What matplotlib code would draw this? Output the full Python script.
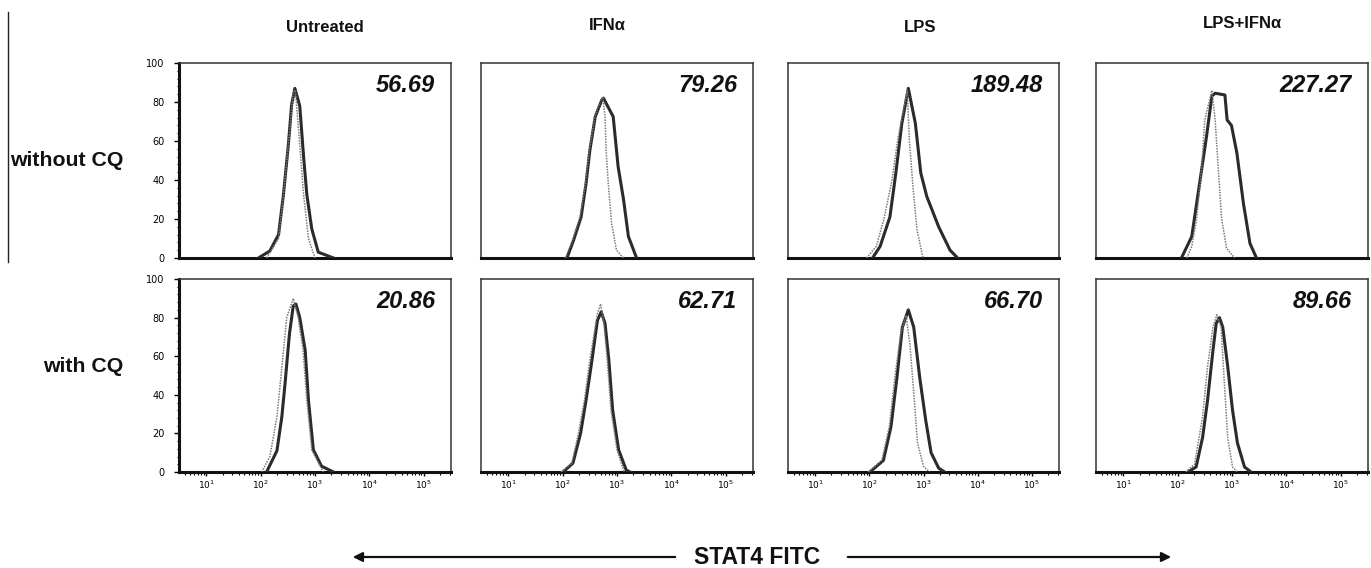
import numpy as np
import matplotlib
matplotlib.use('Agg')
import matplotlib.pyplot as plt
from matplotlib.patches import FancyArrowPatch
from matplotlib.ticker import MultipleLocator, LogLocator, NullFormatter, FixedLocator

plt.rc('font', family=['Liberation Sans', 'DejaVu Sans'])

W, H = 1371, 568

conditions = ['Untreated', 'IFN\u03b1', 'LPS', 'LPS+IFN\u03b1']
row_labels = ['without CQ', 'with CQ']
mfi_without = ['56.69', '79.26', '189.48', '227.27']
mfi_with = ['20.86', '62.71', '66.70', '89.66']
x_ticks = [1, 2, 3, 4, 5]
y_ticks = [0, 20, 40, 60, 80, 100]

# histograms: x in log10(FITC), y in % of max
# without CQ
unt_nocq_x = [1.96, 2.17, 2.33, 2.42, 2.51, 2.57, 2.63, 2.72, 2.79, 2.85, 2.94, 3.06, 3.34]
unt_nocq_y = [0, 3.6, 12, 32.5, 58, 78.6, 87, 78, 52, 32.5, 15, 3, 0]
unt_nocq_ctl_x = [2.11, 2.33, 2.42, 2.51, 2.60, 2.64, 2.72, 2.79, 2.88, 3.00]
unt_nocq_ctl_y = [0, 10, 32, 58, 85, 86, 58, 32.5, 10, 0]

ifn_nocq_x = [2.08, 2.20, 2.34, 2.43, 2.50, 2.60, 2.72, 2.75, 2.93, 3.02, 3.12, 3.21, 3.36]
ifn_nocq_y = [0, 9, 21, 38, 55, 72.5, 81, 82, 72.5, 47, 30, 11, 0]
ifn_nocq_ctl_x = [2.05, 2.18, 2.32, 2.42, 2.49, 2.59, 2.70, 2.74, 2.78, 2.80, 2.84, 2.90, 2.99, 3.12]
ifn_nocq_ctl_y = [0, 9, 21, 38, 55, 72.5, 81, 82, 72.5, 55, 38, 18, 4, 0]

lps_nocq_x = [2.06, 2.20, 2.38, 2.49, 2.60, 2.72, 2.85, 2.95, 3.06, 3.28, 3.49, 3.63]
lps_nocq_y = [0, 6, 21, 43.6, 69, 87, 69, 43.6, 31.6, 16, 4, 0]
lps_nocq_ctl_x = [1.95, 2.13, 2.27, 2.42, 2.52, 2.70, 2.74, 2.81, 2.88, 2.99]
lps_nocq_ctl_y = [0, 6, 20, 40, 60, 86, 60, 35, 14.5, 0]

lpsifn_nocq_x = [2.07, 2.26, 2.35, 2.44, 2.53, 2.63, 2.69, 2.87, 2.91, 2.99, 3.09, 3.21, 3.33, 3.45]
lpsifn_nocq_y = [0, 11, 28, 45, 62, 83, 84.5, 83.6, 70.8, 68, 53.8, 28, 7.5, 0]
lpsifn_nocq_ctl_x = [2.17, 2.26, 2.35, 2.44, 2.50, 2.63, 2.69, 2.75, 2.81, 2.90, 3.05]
lpsifn_nocq_ctl_y = [0, 6, 20, 45, 70.8, 86, 70.8, 45, 20, 5, 0]

# with CQ
unt_cq_x = [2.11, 2.30, 2.39, 2.45, 2.53, 2.60, 2.65, 2.72, 2.82, 2.88, 2.97, 3.12, 3.34]
unt_cq_y = [0, 11, 28.5, 46, 71.5, 86, 87, 80, 63, 37, 11.5, 3, 0]
unt_cq_ctl_x = [2.02, 2.17, 2.30, 2.39, 2.48, 2.60, 2.69, 2.78, 2.85, 2.94, 3.15]
unt_cq_ctl_y = [0, 8, 28.5, 54, 80, 90, 80, 63, 37, 11.5, 0]

ifn_cq_x = [2.01, 2.19, 2.33, 2.43, 2.54, 2.64, 2.71, 2.78, 2.85, 2.92, 3.03, 3.17, 3.24]
ifn_cq_y = [0, 4.6, 20, 37, 58, 78.5, 83, 77, 58, 32, 11.5, 1, 0]
ifn_cq_ctl_x = [1.97, 2.17, 2.29, 2.40, 2.50, 2.64, 2.70, 2.76, 2.82, 2.89, 3.00, 3.13]
ifn_cq_ctl_y = [0, 4.6, 20, 37, 58, 82, 87, 77, 58, 32, 11.5, 0]

lps_cq_x = [2.01, 2.26, 2.40, 2.51, 2.61, 2.72, 2.82, 2.93, 3.04, 3.14, 3.28, 3.39]
lps_cq_y = [0, 6, 23.5, 49, 75, 84, 75, 49, 27, 10, 2, 0]
lps_cq_ctl_x = [1.98, 2.23, 2.37, 2.47, 2.58, 2.68, 2.75, 2.82, 2.89, 3.00, 3.11]
lps_cq_ctl_y = [0, 6, 23.5, 49, 72, 81, 66, 41, 15, 3, 0]

lpsifn_cq_x = [2.19, 2.34, 2.46, 2.55, 2.65, 2.71, 2.77, 2.83, 2.92, 3.01, 3.10, 3.23, 3.35]
lpsifn_cq_y = [0, 2.6, 18, 37, 63, 77, 80, 75, 55, 32, 15, 2.6, 0]
lpsifn_cq_ctl_x = [2.15, 2.31, 2.46, 2.55, 2.65, 2.72, 2.80, 2.86, 2.92, 3.01, 3.10]
lpsifn_cq_ctl_y = [0, 4, 28.6, 54.6, 75, 81.5, 75, 46, 18, 2.6, 0]

curves = [
    [(unt_nocq_x, unt_nocq_y, unt_nocq_ctl_x, unt_nocq_ctl_y),
     (ifn_nocq_x, ifn_nocq_y, ifn_nocq_ctl_x, ifn_nocq_ctl_y),
     (lps_nocq_x, lps_nocq_y, lps_nocq_ctl_x, lps_nocq_ctl_y),
     (lpsifn_nocq_x, lpsifn_nocq_y, lpsifn_nocq_ctl_x, lpsifn_nocq_ctl_y)],
    [(unt_cq_x, unt_cq_y, unt_cq_ctl_x, unt_cq_ctl_y),
     (ifn_cq_x, ifn_cq_y, ifn_cq_ctl_x, ifn_cq_ctl_y),
     (lps_cq_x, lps_cq_y, lps_cq_ctl_x, lps_cq_ctl_y),
     (lpsifn_cq_x, lpsifn_cq_y, lpsifn_cq_ctl_x, lpsifn_cq_ctl_y)],
]
mfi = [mfi_without, mfi_with]

# panel frames in pixels
col_px = [(179, 451), (481, 753), (788, 1059), (1096, 1368)]
row_px = [(63, 258), (279, 472)]
title_px = [(325, 28), (607, 26), (920, 28), (1242, 23)]
rowlab_px = [(123, 161), (123, 367)]

fig = plt.figure(figsize=(W / 100, H / 100), dpi=100)

for r, (top, bot) in enumerate(row_px):
    for c, (left, right) in enumerate(col_px):
        ax = fig.add_axes([left / W, 1 - bot / H, (right - left) / W, (bot - top) / H])
        sx, sy, cx, cy = curves[r][c]
        ax.plot(10 ** np.array(sx), sy, color='#2b2b2b', lw=2.2, zorder=3)
        ax.plot(10 ** np.array(cx), cy, color='#7a7a7a', lw=1.1,
                ls=(0, (1, 0.8)), zorder=4)
        ax.set_xscale('log')
        ax.set_xlim(10 ** 0.5, 10 ** 5.5)
        ax.set_ylim(0, 100)
        for s in ax.spines.values():
            s.set_linewidth(1.1)
            s.set_color('#333333')
        ax.spines['bottom'].set_linewidth(2.2)
        ax.spines['bottom'].set_color('#111111')

        ax.text(1 - 16 / (right - left), 1 - 22 / (bot - top), mfi[r][c],
                transform=ax.transAxes, ha='right', va='center',
                fontsize=17, fontweight='bold', fontstyle='italic', color='#111111')

        if r == 1:
            ax.xaxis.set_major_locator(FixedLocator([10.0 ** k for k in x_ticks]))
            ax.xaxis.set_minor_locator(LogLocator(base=10, subs=np.arange(2, 10)))
            ax.xaxis.set_minor_formatter(NullFormatter())
            ax.set_xticklabels(['$10^{%d}$' % k for k in x_ticks])
            ax.tick_params(axis='x', which='major', length=3, width=1, labelsize=6.5, pad=2)
            ax.tick_params(axis='x', which='minor', length=1.8, width=0.8)
        else:
            ax.tick_params(axis='x', which='both', bottom=False, labelbottom=False)

        if c == 0:
            ax.set_yticks(y_ticks)
            ax.yaxis.set_minor_locator(MultipleLocator(4))
            ax.tick_params(axis='y', which='major', length=3.5, width=1, labelsize=7, pad=7)
            ax.tick_params(axis='y', which='minor', length=1.8, width=0.8)
            for lab in ax.get_yticklabels():
                lab.set_family('DejaVu Sans')
            ax.spines['left'].set_linewidth(2.2)
            ax.spines['left'].set_color('#111111')
        else:
            ax.tick_params(axis='y', which='both', left=False, labelleft=False)

for name, (x, y) in zip(conditions, title_px):
    fig.text(x / W, 1 - y / H, name, ha='center', va='center',
             fontsize=12, fontweight='bold', color='#111111')

for name, (x, y) in zip(row_labels, rowlab_px):
    fig.text(x / W, 1 - y / H, name, ha='right', va='center',
             fontsize=15.3, fontweight='bold', color='#111111')

# thin bracket line on the far left
fig.add_artist(plt.Line2D([8 / W, 8 / W], [1 - 12 / H, 1 - 262 / H],
                          color='#222222', lw=1.0, transform=fig.transFigure))

# STAT4 FITC axis arrows
ya = 1 - 557 / H
fig.text(757 / W, ya, 'STAT4 FITC', ha='center', va='center',
         fontsize=16.5, fontweight='bold', color='#111111')
for x0, x1 in [(678, 350), (845, 1174)]:
    fig.add_artist(FancyArrowPatch((x0 / W, ya), (x1 / W, ya), transform=fig.transFigure,
                                   arrowstyle='-|>', mutation_scale=14, lw=1.6, color='#111111'))

fig.savefig('out.png', dpi=100)
